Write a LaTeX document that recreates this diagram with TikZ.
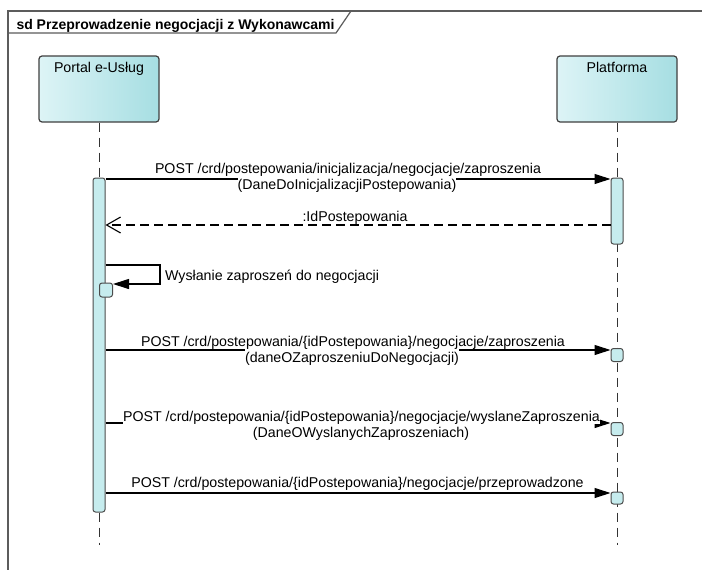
\documentclass[tikz,border=0pt]{standalone}
\usepackage{fontspec}
\setmainfont{Liberation Sans}
\usetikzlibrary{arrows.meta, positioning}
\definecolor{HeadL}{HTML}{DDF4F6}
\definecolor{HeadR}{HTML}{A6DEE2}
\definecolor{ActFill}{HTML}{C6ECEE}
\definecolor{FrameGrey}{HTML}{5C5C5C}

\begin{document}
\begin{tikzpicture}[
    x=1pt, y=-1pt,
    font=\fontsize{14.2}{15}\selectfont,
    head/.style={rectangle, draw=black!75, line width=1.2pt, rounded corners=3pt, left color=HeadL, right color=HeadR, minimum width=120pt, minimum height=66pt, inner sep=0pt},
    act/.style={rectangle, draw=black!70, line width=1pt, rounded corners=2.5pt, fill=ActFill, minimum width=12pt, inner sep=0pt},
    lifeline/.style={draw=black!80, line width=1pt, dash pattern=on 9pt off 6pt},
    msg/.style={-{Triangle[length=16pt, width=10pt]}, line width=1.1pt},
    reply/.style={-{Straight Barb[length=14pt, width=16pt]}, line width=1.1pt, dash pattern=on 9pt off 5pt},
    row/.style={fill=white, inner sep=0pt, text height=13.5pt, text depth=3pt}
]
\useasboundingbox (0,0) rectangle (702,570);
\fill[white] (0,0) rectangle (702,570);

% frame
\draw[FrameGrey, line width=1.5pt] (702,11) -- (8,11) -- (8,570);
\draw[FrameGrey, line width=1.2pt] (8,33) -- (336,33) -- (351,11);
\node[anchor=base west, font=\fontsize{14}{15}\selectfont\bfseries] (title) at (13,29) {sd Przeprowadzenie negocjacji z Wykonawcami};

% lifelines
\node[head] (portal) at (99,89) {};
\node[head] (platforma) at (617,89) {};
\node[anchor=base] (portalName) at ([yshift=-17pt]portal.north) {Portal e-Usług};
\node[anchor=base] (platformaName) at ([yshift=-17pt]platforma.north) {Platforma};
\coordinate (portalEnd) at (99,545);
\coordinate (platformaEnd) at (617,545);
\draw[lifeline] (portal) -- (portalEnd);
\draw[lifeline] (platforma) -- (platformaEnd);

% activations
\node[act, minimum height=334pt] (portalAct) at (99,345) {};
\node[act, minimum height=66pt] (platformaAct) at (617,211) {};
\node[act, minimum width=13pt, minimum height=14pt] (selfAct) at (106,290) {};
\node[act, minimum height=13pt] (recvA) at (617,355) {};
\node[act, minimum height=13pt] (recvB) at (617,429) {};
\node[act, minimum height=12pt] (recvC) at (617,498) {};

% messages
\coordinate (m1) at (0,179);
\draw[msg] (portalAct.east |- m1) -- (platformaAct.west |- m1);
\node[row, anchor=base] (m1Top) at (348,173) {POST /crd/postepowania/inicjalizacja/negocjacje/zaproszenia};
\node[row, anchor=base] (m1Bottom) at (347,189) {(DaneDoInicjalizacjiPostepowania)};

\coordinate (m2) at (0,225);
\draw[reply] (platformaAct.west |- m2) -- (portalAct.east |- m2);
\node[anchor=base, inner sep=0pt] (m2Label) at (355,221) {:IdPostepowania};

\coordinate (selfTop) at (160,265);
\coordinate (selfBot) at (160,284);
\draw[msg] (portalAct.east |- selfTop) -- (selfTop) -- (selfBot) -- (selfAct.east |- selfBot);
\node[anchor=base west, inner sep=0pt] (selfLabel) at (165,280) {Wysłanie zaproszeń do negocjacji};

\coordinate (m3) at (0,350);
\draw[msg] (portalAct.east |- m3) -- (recvA.west |- m3);
\node[row, anchor=base] (m3Top) at (353,346) {POST /crd/postepowania/\{idPostepowania\}/negocjacje/zaproszenia};
\node[row, anchor=base] (m3Bottom) at (352,362) {(daneOZaproszeniuDoNegocjacji)};

\coordinate (m4) at (0,423);
\draw[msg] (portalAct.east |- m4) -- (recvB.west |- m4);
\node[row, anchor=base] (m4Top) at (361.5,421) {POST /crd/postepowania/\{idPostepowania\}/negocjacje/wyslaneZaproszenia};
\node[row, anchor=base] (m4Bottom) at (361,437) {(DaneOWyslanychZaproszeniach)};

\coordinate (m5) at (0,493);
\draw[msg] (portalAct.east |- m5) -- (recvC.west |- m5);
\node[anchor=base, inner sep=0pt] (m5Label) at (357.5,487) {POST /crd/postepowania/\{idPostepowania\}/negocjacje/przeprowadzone};
\end{tikzpicture}
\end{document}
